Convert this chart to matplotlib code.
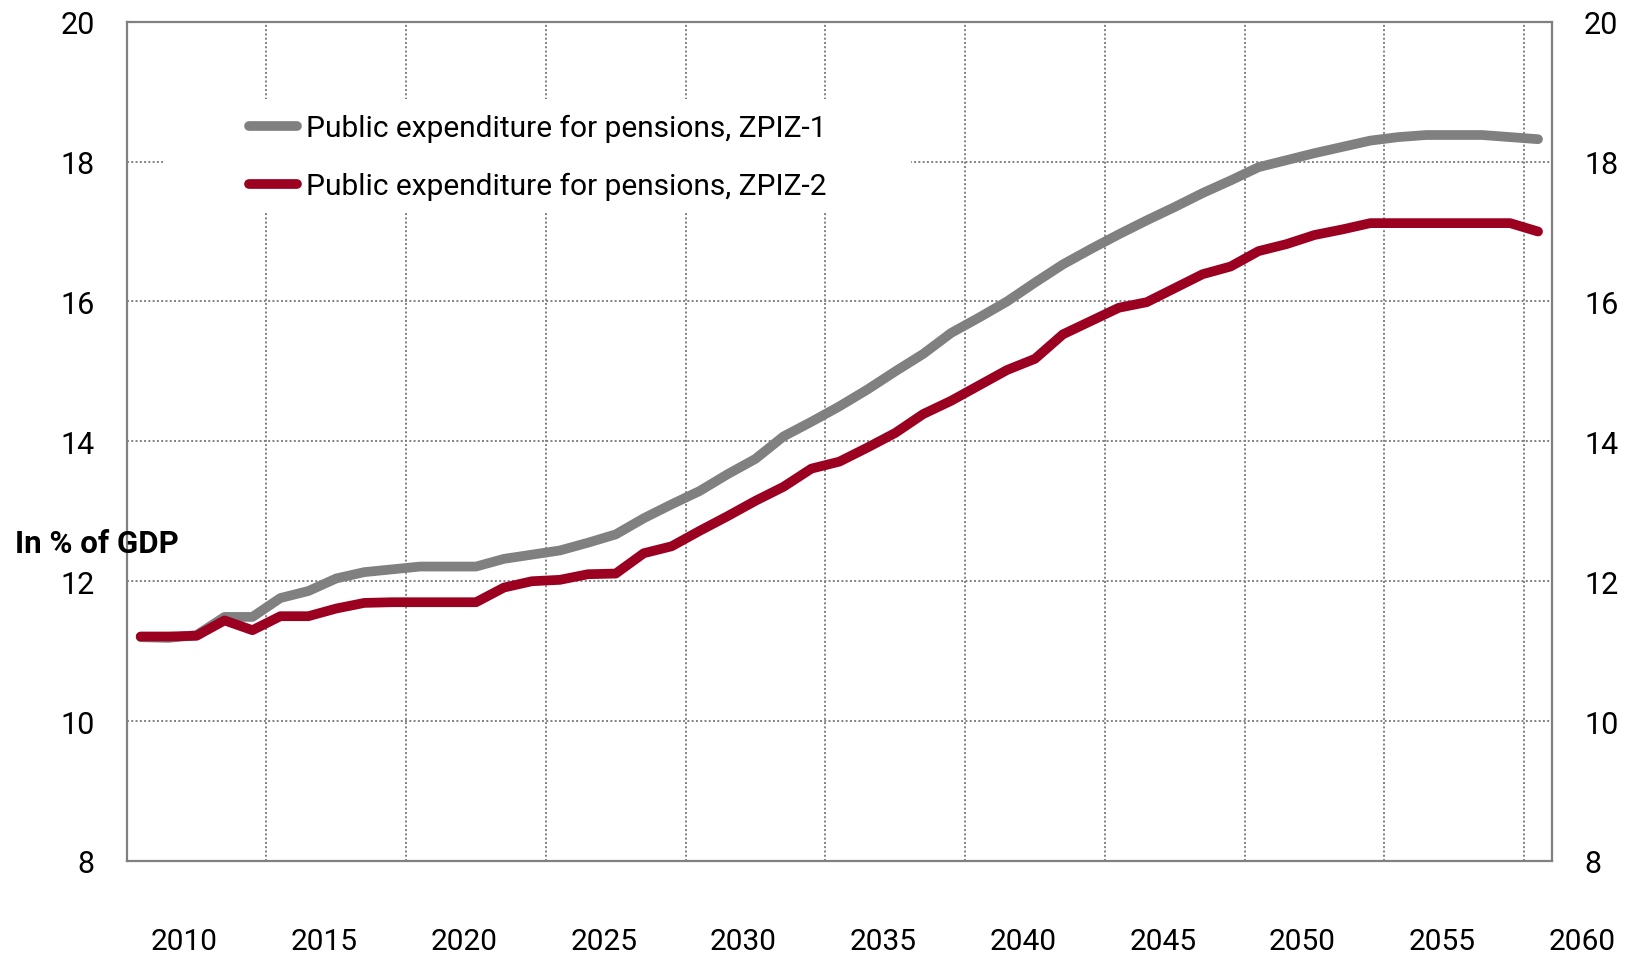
import matplotlib
matplotlib.use("Agg")
import matplotlib.pyplot as plt
from matplotlib.patches import Rectangle
from matplotlib.transforms import blended_transform_factory

# ---- data ----
years = list(range(2010, 2061))
zpiz1 = [11.20, 11.19, 11.23, 11.49, 11.49, 11.76, 11.86, 12.04, 12.13, 12.17,
         12.21, 12.21, 12.21, 12.32, 12.38, 12.44, 12.55, 12.67, 12.90, 13.10,
         13.29, 13.53, 13.75, 14.07, 14.28, 14.50, 14.74, 15.00, 15.25, 15.55,
         15.77, 16.00, 16.27, 16.53, 16.75, 16.96, 17.16, 17.35, 17.55, 17.73,
         17.92, 18.02, 18.12, 18.21, 18.30, 18.35, 18.38, 18.38, 18.38, 18.35,
         18.32]
zpiz2 = [11.21, 11.21, 11.22, 11.44, 11.30, 11.50, 11.50, 11.61, 11.69, 11.70,
         11.70, 11.70, 11.70, 11.91, 12.00, 12.02, 12.10, 12.11, 12.40, 12.50,
         12.72, 12.93, 13.15, 13.35, 13.61, 13.71, 13.91, 14.12, 14.39, 14.58,
         14.80, 15.02, 15.18, 15.53, 15.72, 15.91, 15.99, 16.19, 16.39, 16.50,
         16.72, 16.82, 16.95, 17.03, 17.12, 17.12, 17.12, 17.12, 17.12, 17.12,
         17.00]
label1 = "Public expenditure for pensions, ZPIZ-1"
label2 = "Public expenditure for pensions, ZPIZ-2"
ylabel_text = "In % of GDP"
tick_years = list(range(2010, 2061, 5))
yticks = [8, 10, 12, 14, 16, 18, 20]

# ---- style ----
FONT = "Roboto"
plt.rcParams['font.family'] = [FONT, 'DejaVu Sans']
GREY = "#808080"
RED = "#9C0020"
W, H = 1630, 954

fig = plt.figure(figsize=(W / 100, H / 100), dpi=100)
left, right, top, bottom = 126.7, 1552.0, 22.7, 862.0
ax = fig.add_axes([left / W, 1 - bottom / H, (right - left) / W, (bottom - top) / H])

x = list(range(len(years)))
ax.plot(x, zpiz1, color=GREY, lw=7, solid_capstyle='round', solid_joinstyle='round',
        label=label1, zorder=3)
ax.plot(x, zpiz2, color=RED, lw=7, solid_capstyle='round', solid_joinstyle='round',
        label=label2, zorder=4)

# gridlines
dot = (0, (1, 1.2))
for yv in yticks[1:-1]:
    ax.axhline(yv, color=GREY, lw=1.4, linestyle=dot, zorder=1)
for i in range(5, len(years), 5):
    ax.axvline(i - 0.5, color=GREY, lw=1.4, linestyle=dot, zorder=1)

# white legend background
bx0, bx1, by0, by1 = 163, 911, 100, 212
rect = Rectangle((bx0 / W, 1 - by1 / H), (bx1 - bx0) / W, (by1 - by0) / H,
                 transform=fig.transFigure, facecolor='white', edgecolor='none', zorder=2)
ax.add_patch(rect)

# spines
for s in ax.spines.values():
    s.set_color(GREY)
    s.set_linewidth(1.6)
    s.set_zorder(5)

# x labels (drawn as text; the last one sits beyond the plot frame)
ax.set_xticks([])
ax.set_xlim(-0.5, len(years) - 0.5)
ax.set_ylim(8, 20)
shift = 1.57
trans = blended_transform_factory(ax.transData, ax.transAxes)
ybase = (bottom - 950) / (bottom - top)
for yy in tick_years:
    ax.text((yy - years[0]) + shift, ybase, str(yy), transform=trans,
            ha='center', va='baseline', fontsize=21.5, clip_on=False)

ax.set_yticks(yticks)
ax.set_yticklabels([str(v) for v in yticks], fontsize=22)
ax.tick_params(axis='y', length=0, pad=23, labelright=True, right=True, left=True)

# legend
leg = fig.legend(loc='center left', bbox_to_anchor=(249 / W, 1 - 158 / H),
                 frameon=False, fontsize=21.5, handlelength=1.6, handletextpad=0.3,
                 labelspacing=1.0, borderpad=0, borderaxespad=0)
for t in leg.get_texts():
    t.set_color('black')

# y label text
fig.text(15 / W, 1 - 553 / H, ylabel_text, fontsize=22.5, fontweight='bold',
         ha='left', va='baseline', zorder=10)

fig.savefig("out.png", dpi=100)
